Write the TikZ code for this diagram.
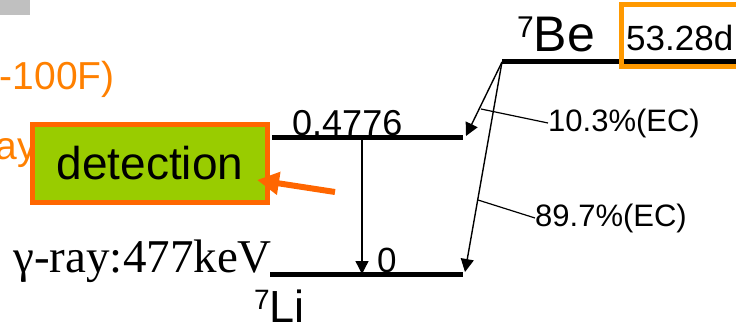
\documentclass[tikz,border=0pt]{standalone}
\usepackage{fontspec}
\setmainfont{Liberation Sans}
\newfontfamily\timesfont{Liberation Serif}
\usetikzlibrary{arrows.meta}
\definecolor{C1}{RGB}{255,102,0}
\definecolor{C2}{RGB}{255,153,0}
\definecolor{C3}{RGB}{153,204,0}
\definecolor{C4}{RGB}{192,192,192}
\definecolor{C5}{RGB}{255,128,0}

\begin{document}
\begin{tikzpicture}[
  x=1pt, y=-1pt,
  lvl/.style  = {line width=5pt},
  decay/.style = {-{Triangle[length=13pt,width=13pt]}, line width=1.4pt},
  lead/.style = {line width=1.2pt},
  lbl/.style  = {inner sep=0pt, font=\fontsize{31}{33}\selectfont},
  olbl/.style = {inner sep=0pt, text=C5, font=\fontsize{39}{41}\selectfont},
  detbox/.style = {draw=C1, fill=C3, line width=5pt, inner sep=0pt,
    minimum width=235pt, minimum height=78pt,
    font=\fontsize{46}{48}\selectfont},
  oa/.style = {-{Triangle[length=22pt,width=22pt]}, line width=6pt, C1}
]
\useasboundingbox (0,0) rectangle (736,329);
\clip (0,0) rectangle (736,329);

%% ---------- cut-off bits on the left ----------
\fill[C4] (0,0) rectangle (30,15);
\node[olbl, anchor=base east] (hundred) at (115,89) {(100-100F)};
\node[olbl, anchor=base east] (ray) at (37,159) {-ray};

%% ---------- detection box ----------
\node[detbox] (det) at (150,163.5) {detection};
\coordinate (det-hit) at (257,180);

%% ---------- levels ----------
\coordinate (be-l) at (502,62);
\coordinate (be-r) at (736,62);
\coordinate (ex-l) at (272,137);
\coordinate (ex-r) at (463,137);
\coordinate (gs-l) at (270,274);
\coordinate (gs-r) at (463,274);
\coordinate (gam-t) at (362,137);
\coordinate (gam-b) at (362,274);

\draw[lvl] (be-l) -- (be-r);
\draw[lvl] (ex-l) -- (ex-r);
\draw[lvl] (gs-l) -- (gs-r);

\node[draw=C2, line width=5pt, minimum width=130pt, minimum height=62pt,
      inner sep=0pt] (hlbox) at (686,35.5) {};
\node[lbl, font=\fontsize{35}{37}\selectfont, anchor=base west]
    (hl) at (626,51) {53.28d};

\node[lbl, font=\fontsize{50}{52}\selectfont, anchor=base west]
    (be) at (517,52) {\raisebox{14pt}{\fontsize{30}{32}\selectfont 7}Be};
\node[lbl, font=\fontsize{36}{38}\selectfont, anchor=base west]
    (exlbl) at (292,135) {0.4776};
\node[lbl, font=\fontsize{35}{37}\selectfont, anchor=base west]
    (gslbl) at (377,272) {0};
\node[lbl, font=\fontsize{45}{47}\selectfont, anchor=base west]
    (li) at (254,322) {\raisebox{13pt}{\fontsize{28}{30}\selectfont 7}Li};
\node[lbl, font=\timesfont\fontsize{47}{49}\selectfont, anchor=base east]
    (gam) at (272,272) {γ-ray:477keV};

%% ---------- transitions ----------
\draw[decay] (gam-t) -- (gam-b);
\draw[decay] (be-l) -- (466,136);
\draw[decay] (be-l) -- (465,272);

\node[lbl, anchor=west] (br1) at (548,123) {10.3\%(EC)};
\node[lbl, anchor=west] (br2) at (535,218) {89.7\%(EC)};
\draw[lead] (481,109) -- (br1.west);
\draw[lead] (478,200) -- (br2.west);

%% ---------- pointer to detection ----------
\draw[oa] (335,192) -- (det-hit);

\end{tikzpicture}
\end{document}
